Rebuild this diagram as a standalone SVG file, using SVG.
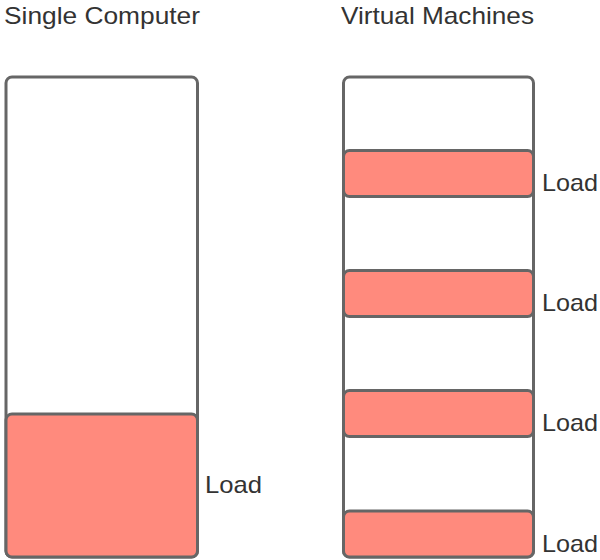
<svg xmlns="http://www.w3.org/2000/svg" width="600" height="560" viewBox="0 0 600 560">
<style>
.box{fill:#ffffff;stroke:#666666;stroke-width:3}
.load{fill:#ff8a7d;stroke:#666666;stroke-width:3}
.t{font-family:"Liberation Sans",Arial,sans-serif;font-size:24px;fill:#333333}
</style>
<rect width="600" height="560" fill="#ffffff"/>
<g id="title-single"><text class="t" x="4" y="24" textLength="196" lengthAdjust="spacingAndGlyphs">Single Computer</text></g>
<g id="title-vm"><text class="t" x="341" y="24" textLength="193" lengthAdjust="spacingAndGlyphs">Virtual Machines</text></g>
<g id="single-computer">
<rect class="box" x="6" y="77" width="191.5" height="480" rx="6"/>
<rect class="load" x="6" y="414" width="191.5" height="143" rx="6"/>
<text class="t" x="205" y="493" textLength="57" lengthAdjust="spacingAndGlyphs">Load</text>
</g>
<g id="virtual-machines">
<rect class="box" x="343.5" y="77" width="190" height="480" rx="6"/>
<g id="vm1"><rect class="load" x="343.5" y="150.5" width="190" height="46" rx="6"/><text class="t" x="542" y="191" textLength="56" lengthAdjust="spacingAndGlyphs">Load</text></g>
<g id="vm2"><rect class="load" x="343.5" y="270.5" width="190" height="46" rx="6"/><text class="t" x="542" y="311" textLength="56" lengthAdjust="spacingAndGlyphs">Load</text></g>
<g id="vm3"><rect class="load" x="343.5" y="390.5" width="190" height="46" rx="6"/><text class="t" x="542" y="431" textLength="56" lengthAdjust="spacingAndGlyphs">Load</text></g>
<g id="vm4"><rect class="load" x="343.5" y="511" width="190" height="46" rx="6"/><text class="t" x="542" y="552" textLength="56" lengthAdjust="spacingAndGlyphs">Load</text></g>
</g>
<g id="connectors"/>
</svg>
